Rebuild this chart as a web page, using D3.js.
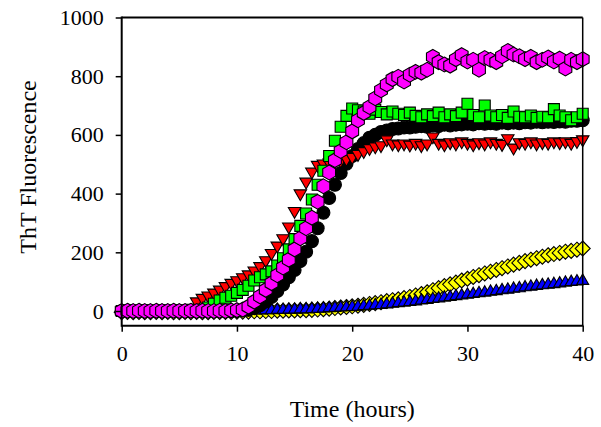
<!DOCTYPE html>
<html>
<head>
<meta charset="utf-8">
<script src="https://cdn.jsdelivr.net/npm/d3@7"></script>
<style>
  html, body { margin: 0; padding: 0; background: #fff; }
  svg { display: block; }
</style>
</head>
<body>
<svg id="chart" width="601" height="427"></svg>
<script>
// ---- data ----
const hours = [0,0.5,1,1.5,2,2.5,3,3.5,4,4.5,5,5.5,6,6.5,7,7.5,8,8.5,9,9.5,
  10,10.5,11,11.5,12,12.5,13,13.5,14,14.5,15,15.5,16,16.5,17,17.5,18,18.5,19,19.5,
  20,20.5,21,21.5,22,22.5,23,23.5,24,24.5,25,25.5,26,26.5,27,27.5,28,28.5,29,29.5,
  30,30.5,31,31.5,32,32.5,33,33.5,34,34.5,35,35.5,36,36.5,37,37.5,38,38.5,39,39.5,40];

const yellowDiamonds = [-4,-3,-4,-3,-4,-4,-3,-4,-3,-4,-4,-3,-4,-3,-4,-4,-3,-3,-3,-3,
  -2,-2,-2,-1,-1,0,0,1,
  1,2,2,3,3,4,5,6,8,10,12,14,16,18,21,24,27,30,34,37,40,44,48,53,58,64,71,78,85,91,97,104,
  110,116,122,128,134,140,146,152,158,164,170,175,180,185,190,194,198,202,205,209,213];

const blueTriangles = [0,0,1,0,0,1,0,0,1,0,0,1,0,0,1,0,1,1,1,
  2,2,3,3,4,4,5,5,6,6,7,7,8,8,9,10,11,12,13,14,15,16,17,19,20,22,23,25,27,29,31,33,35,38,40,
  43,45,48,50,53,55,58,60,63,65,68,70,73,75,78,80,83,85,88,90,92,94,96,99,101,103,105];

const blackCircles = [0,1,0,0,1,0,0,1,0,0,1,0,0,1,0,1,0,0,1,0,1,2,4,
  10,20,32,48,68,90,115,140,170,202,238,282,335,385,430,470,502,528,552,572,590,600,
  610,615,620,622,625,625,628,630,628,632,630,635,632,635,636,638,636,640,638,640,638,
  642,640,642,640,643,642,645,643,645,644,646,645,648,648,650];

const redTriangles = [0,1,0,0,1,0,0,1,0,0,1,2,8,
  30,42,50,60,70,82,93,102,112,122,135,150,170,195,220,245,285,338,398,438,472,495,
  500,503,506,510,515,522,532,542,552,558,562,582,568,565,568,564,570,562,568,592,570,
  565,572,568,575,570,565,572,568,575,570,566,586,554,572,570,575,568,572,570,575,572,
  575,570,576,582];

const greenSquares = [0,1,0,0,1,0,0,1,0,0,1,0,0,2,5,12,
  25,36,45,52,62,72,86,104,115,125,135,155,180,210,245,290,332,380,430,478,528,580,628,665,
  690,684,680,672,686,678,670,680,672,668,676,665,660,670,664,676,660,670,664,676,
  706,668,660,700,666,660,668,658,680,662,660,666,658,662,660,688,666,660,650,660,672];

const magentaHexagons = [0,1,0,1,0,0,1,0,0,1,0,0,1,0,1,0,0,1,0,2,3,5,
  15,32,50,72,95,122,148,175,210,248,282,318,372,425,472,514,545,575,612,650,675,695,
  725,752,772,790,798,782,805,815,812,822,866,848,840,836,858,872,850,856,822,862,856,
  848,868,886,874,868,858,866,848,856,864,850,860,826,856,848,858];

const xTicks = [0,10,20,30,40];
const yTicks = [0,200,400,600,800,1000];
const xTitle = "Time (hours)";
const yTitle = "ThT Fluorescence";

// ---- layout ----
const svg = d3.select("#chart");
const pL = 121.7, pR = 582.7, pT = 17.5, pB = 325.7;
const x = d3.scaleLinear().domain([0, 40]).range([pL, pR]);
const y = d3.scaleLinear().domain([-50, 1000]).range([pB, pT]);
const font = "'Liberation Serif', 'Times New Roman', serif";

// marker shapes
function hexPath(r) {
  let p = "";
  for (let i = 0; i < 6; i++) {
    const a = Math.PI / 180 * (60 * i - 90);
    p += (i ? "L" : "M") + (r * Math.cos(a)).toFixed(2) + "," + (r * Math.sin(a)).toFixed(2);
  }
  return p + "Z";
}
function diamondPath(r) { return `M0,${-r}L${r},0L0,${r}L${-r},0Z`; }
function triPath(s, down) {
  const h = s * 0.866;
  const t = down ? -1 : 1;
  return `M0,${-t * h * 0.6}L${s / 2},${t * h * 0.4}L${-s / 2},${t * h * 0.4}Z`;
}
function squarePath(s) { const h = s / 2; return `M${-h},${-h}H${h}V${h}H${-h}Z`; }
function circlePath(r) { return `M${r},0A${r},${r} 0 1,1 ${-r},0A${r},${r} 0 1,1 ${r},0Z`; }

const series = [
  { values: yellowDiamonds, fill: "#FFFF00", path: diamondPath(7.5) },
  { values: blueTriangles, fill: "#0000FF", path: triPath(12, false) },
  { values: blackCircles, fill: "#000000", path: circlePath(6.5) },
  { values: redTriangles, fill: "#FF0000", path: triPath(12.5, true) },
  { values: greenSquares, fill: "#00FF00", path: squarePath(11) },
  { values: magentaHexagons, fill: "#FF00FF", path: hexPath(7.4) }
];

const plot = svg.append("g");
series.forEach(s => {
  plot.append("g").selectAll("path")
    .data(hours.map((h, i) => [h, s.values[i]]))
    .join("path")
    .attr("d", s.path)
    .attr("transform", d => `translate(${x(d[0])},${y(d[1])})`)
    .attr("fill", s.fill)
    .attr("stroke", "#000")
    .attr("stroke-width", 1.1);
});

// frame
svg.append("line").attr("x1", pL).attr("x2", pR).attr("y1", pT).attr("y2", pT)
  .attr("stroke", "#000").attr("stroke-width", 2);
svg.append("line").attr("x1", pR).attr("x2", pR).attr("y1", pT).attr("y2", pB)
  .attr("stroke", "#000").attr("stroke-width", 1.5);

// axes
const yAxis = svg.append("g").attr("transform", `translate(${pL},0)`)
  .call(d3.axisLeft(y).tickValues(yTicks).tickFormat(d3.format("d"))
    .tickSize(6).tickPadding(12).tickSizeOuter(0));
const xAxis = svg.append("g").attr("transform", `translate(0,${pB})`)
  .call(d3.axisBottom(x).tickValues(xTicks).tickFormat(d3.format("d"))
    .tickSize(6).tickPadding(14).tickSizeOuter(0));
[yAxis, xAxis].forEach(a => {
  a.attr("font-family", null).attr("font-size", null);
  a.select(".domain").remove();
  a.selectAll(".tick line").attr("stroke", "#000").attr("stroke-width", 1.5);
  a.selectAll("text").style("font-family", font).style("font-size", "22px").attr("fill", "#000");
});
svg.append("line").attr("x1", pL).attr("x2", pL).attr("y1", pT - 1).attr("y2", pB + 1)
  .attr("stroke", "#000").attr("stroke-width", 2);
svg.append("line").attr("x1", pL).attr("x2", pR + 0.75).attr("y1", pB).attr("y2", pB)
  .attr("stroke", "#000").attr("stroke-width", 2);

// titles
svg.append("text").attr("x", (pL + pR) / 2).attr("y", 417)
  .attr("text-anchor", "middle").style("font-family", font).style("font-size", "24px")
  .text(xTitle);
svg.append("text").attr("transform", `translate(36,167) rotate(-90)`)
  .attr("text-anchor", "middle").style("font-family", font).style("font-size", "24px")
  .text(yTitle);
</script>
</body>
</html>
